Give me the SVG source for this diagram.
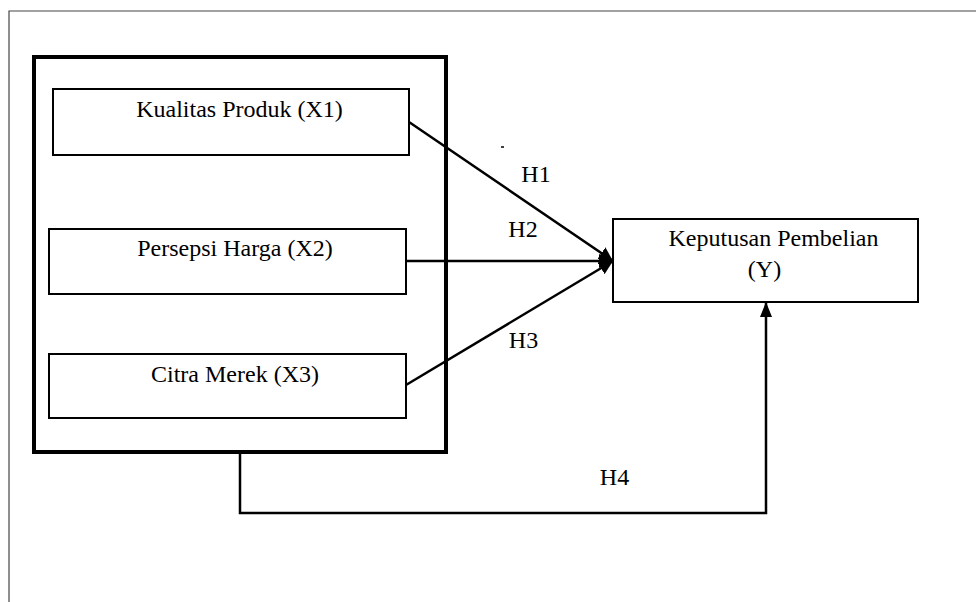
<svg xmlns="http://www.w3.org/2000/svg" width="976" height="602" viewBox="0 0 976 602">
<style>
.lbl{font-family:"Liberation Serif","Times New Roman",serif;font-size:24px;fill:#000;text-anchor:middle}
.node{fill:#fff;stroke:#000;stroke-width:2}
.conn{fill:none;stroke:#000;stroke-width:2.5}
</style>
<defs>
<marker id="ah" viewBox="0 0 14 14" refX="14" refY="7" markerWidth="14" markerHeight="14" markerUnits="userSpaceOnUse" orient="auto">
<path d="M0,0 L14,7 L0,14 z" fill="#000"/>
</marker>
<marker id="ah2" viewBox="0 0 15 12" refX="15" refY="6" markerWidth="15" markerHeight="12" markerUnits="userSpaceOnUse" orient="auto">
<path d="M0,0 L15,6 L0,12 z" fill="#000"/>
</marker>
</defs>
<rect width="976" height="602" fill="#fff"/>
<g id="frame">
<path d="M9,602 V11 H976" fill="none" stroke="#444" stroke-width="1.2"/>
</g>
<g id="group-x">
<rect x="34" y="57" width="412" height="395" fill="none" stroke="#000" stroke-width="4"/>
</g>
<g id="x1">
<rect class="node" x="53" y="89" width="356" height="66"/>
<text class="lbl" x="239.5" y="117">Kualitas Produk (X1)</text>
</g>
<g id="x2">
<rect class="node" x="49" y="229" width="357" height="65"/>
<text class="lbl" x="235" y="256">Persepsi Harga (X2)</text>
</g>
<g id="x3">
<rect class="node" x="49" y="354" width="357" height="64"/>
<text class="lbl" x="235" y="382">Citra Merek (X3)</text>
</g>
<g id="y">
<rect class="node" x="613" y="219" width="305" height="83"/>
<text class="lbl" x="773.5" y="246">Keputusan Pembelian</text>
<text class="lbl" x="764.5" y="277">(Y)</text>
</g>
<g id="connectors">
<line class="conn" x1="409" y1="122" x2="613" y2="261" marker-end="url(#ah)"/>
<line class="conn" x1="406" y1="261" x2="613" y2="261" marker-end="url(#ah)"/>
<line class="conn" x1="406" y1="385" x2="613" y2="261" marker-end="url(#ah)"/>
<path class="conn" d="M240,452 V513 H766 V302" stroke-width="3" marker-end="url(#ah2)"/>
<line x1="501" y1="147" x2="504" y2="147" stroke="#000" stroke-width="1.5"/>
<text class="lbl" x="536" y="182">H1</text>
<text class="lbl" x="523" y="237">H2</text>
<text class="lbl" x="523.5" y="348">H3</text>
<text class="lbl" x="614.5" y="485">H4</text>
</g>
</svg>
